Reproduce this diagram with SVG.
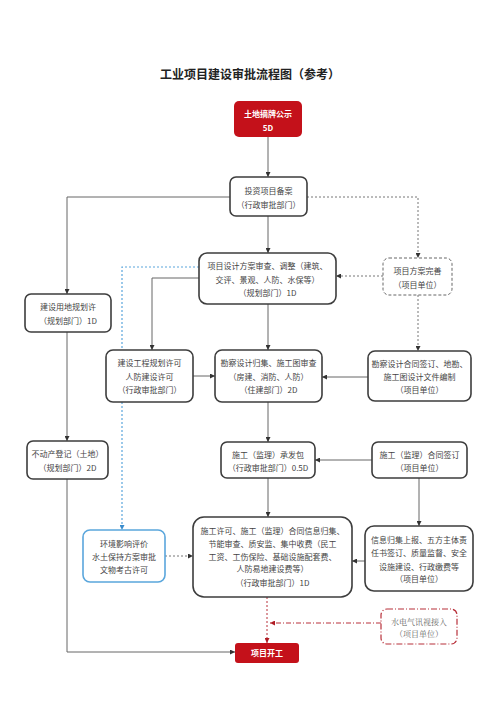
<svg xmlns="http://www.w3.org/2000/svg" width="500" height="707" viewBox="0 0 500 707">
<defs>
<style>
.t{font-family:"Noto Sans CJK SC","Liberation Sans",sans-serif;font-size:8px;fill:#444;text-anchor:middle}
.w{font-family:"Noto Sans CJK SC","Liberation Sans",sans-serif;font-size:8px;fill:#fff;font-weight:bold;text-anchor:middle}
.s{font-family:"Noto Serif CJK SC","Liberation Serif","Noto Sans CJK SC",serif;font-size:8px;fill:#666;text-anchor:middle}
.box{fill:#fff;stroke:#3d3d3d;stroke-width:1.6}
.red{fill:#c4111a;stroke:none}
.dbox{fill:#fff;stroke:#666;stroke-width:1;stroke-dasharray:3 2}
.bbox{fill:#fff;stroke:#5aa6dc;stroke-width:1.6}
.rbox{fill:#fff;stroke:#b8303a;stroke-width:1.2;stroke-dasharray:6 2 1 2}
.ln{fill:none;stroke:#666;stroke-width:1;marker-end:url(#ah)}
.lnn{fill:none;stroke:#666;stroke-width:1}
.dl{fill:none;stroke:#777;stroke-width:1;stroke-dasharray:2 2;marker-end:url(#ah)}
.bl{fill:none;stroke:#5aa6dc;stroke-width:1.2;stroke-dasharray:2 2;marker-end:url(#ahb)}
.rl{fill:none;stroke:#b8303a;stroke-width:1;stroke-dasharray:2 2;marker-end:url(#ahr)}
.rdl{fill:none;stroke:#b8303a;stroke-width:1;stroke-dasharray:5 2 1 2;marker-end:url(#ahr)}
</style>
<marker id="ah" viewBox="0 0 10 10" refX="10" refY="5" markerWidth="5" markerHeight="5" orient="auto" markerUnits="userSpaceOnUse"><path d="M0,0L10,5L0,10z" fill="#333"/></marker>
<marker id="ahb" viewBox="0 0 10 10" refX="10" refY="5" markerWidth="5" markerHeight="5" orient="auto" markerUnits="userSpaceOnUse"><path d="M0,0L10,5L0,10z" fill="#3a8ccc"/></marker>
<marker id="ahr" viewBox="0 0 10 10" refX="10" refY="5" markerWidth="5" markerHeight="5" orient="auto" markerUnits="userSpaceOnUse"><path d="M0,0L10,5L0,10z" fill="#b01c24"/></marker>
</defs>
<rect width="500" height="707" fill="#fff"/>
<text x="250" y="79" style="font-family:'Noto Sans CJK SC','Liberation Sans',sans-serif;font-size:12px;font-weight:bold;fill:#222;text-anchor:middle">工业项目建设审批流程图（参考）</text>

<g id="connectors">
<path class="ln" d="M268,137V177"/>
<path class="ln" d="M230,197H67V294"/>
<path class="dl" d="M307,197H418V258"/>
<path class="ln" d="M268,216V253"/>
<path class="dl" d="M383,276H336"/>
<path class="dl" d="M418,295V351"/>
<path class="ln" d="M199,278H152V350"/>
<path class="bl" d="M199,267H122V530"/>
<path class="ln" d="M193,376H215"/>
<path class="ln" d="M268,304V350"/>
<path class="ln" d="M368,377H322"/>
<path class="ln" d="M67,332V441"/>
<path class="ln" d="M268,402V442"/>
<path class="ln" d="M372,460H315"/>
<path class="ln" d="M419,478V526"/>
<path class="ln" d="M268,478V517"/>
<path class="dl" d="M165,556H193"/>
<path class="ln" d="M365,561H352"/>
<path class="ln" d="M67,479V652H235"/>
<path class="rl" d="M267,597V643"/>
<path class="rdl" d="M381,623H270"/>
</g>

<g id="n1"><rect class="red" x="234" y="101" width="68" height="36" rx="5"/><text class="w" x="268" y="117">土地摘牌公示</text><text class="w" x="268" y="131">5D</text></g>
<g id="n2"><rect class="box" x="230" y="177" width="77" height="39" rx="6"/><text class="t" x="268.5" y="194">投资项目备案</text><text class="t" x="268.5" y="208">（行政审批部门）</text></g>
<g id="n3"><rect class="box" x="25" y="294" width="86" height="38" rx="6"/><text class="t" x="68" y="310">建设用地规划许</text><text class="t" x="68" y="324">（规划部门）1D</text></g>
<g id="n4"><rect class="box" x="199" y="253" width="137" height="51" rx="8"/><text class="t" x="267.5" y="269">项目设计方案审查、调整（建筑、</text><text class="t" x="267.5" y="283">交评、景观、人防、水保等）</text><text class="t" x="267.5" y="296">（规划部门）1D</text></g>
<g id="n5"><rect class="dbox" x="383" y="258" width="69" height="37" rx="6"/><text class="t" x="417.5" y="274">项目方案完善</text><text class="t" x="417.5" y="288">（项目单位）</text></g>
<g id="n6"><rect class="box" x="106" y="350" width="87" height="52" rx="7"/><text class="t" x="149.5" y="366">建设工程规划许可</text><text class="t" x="149.5" y="380">人防建设许可</text><text class="t" x="149.5" y="393">（行政审批部门）</text></g>
<g id="n7"><rect class="box" x="215" y="350" width="107" height="52" rx="7"/><text class="t" x="268.5" y="366">勘察设计归集、施工图审查</text><text class="t" x="268.5" y="380">（房建、消防、人防）</text><text class="t" x="268.5" y="393">（住建部门）2D</text></g>
<g id="n8"><rect class="box" x="368" y="351" width="103" height="50" rx="7"/><text class="t" x="419.5" y="367">勘察设计合同签订、地勘、</text><text class="t" x="419.5" y="380">施工图设计文件编制</text><text class="t" x="419.5" y="393">（项目单位）</text></g>
<g id="n9"><rect class="box" x="27" y="441" width="81" height="38" rx="6"/><text class="t" x="67.5" y="457">不动产登记（土地）</text><text class="t" x="67.5" y="471">（规划部门）2D</text></g>
<g id="n10"><rect class="box" x="221" y="442" width="94" height="36" rx="6"/><text class="t" x="268" y="458">施工（监理）承发包</text><text class="t" x="268" y="471">（行政审批部门）0.5D</text></g>
<g id="n11"><rect class="box" x="372" y="442" width="95" height="36" rx="6"/><text class="t" x="419.5" y="458">施工（监理）合同签订</text><text class="t" x="419.5" y="471">（项目单位）</text></g>
<g id="n12"><rect class="bbox" x="83" y="530" width="82" height="52" rx="7"/><text class="t" x="124" y="547">环境影响评价</text><text class="t" x="124" y="560">水土保持方案审批</text><text class="t" x="124" y="573">文物考古许可</text></g>
<g id="n13"><rect class="box" x="193" y="517" width="159" height="80" rx="11"/><text class="t" x="272.5" y="534">施工许可、施工（监理）合同信息归集、</text><text class="t" x="272.5" y="547">节能审查、质安监、集中收费（民工</text><text class="t" x="272.5" y="560">工资、工伤保险、基础设施配套费、</text><text class="t" x="272.5" y="572">人防易地建设费等）</text><text class="t" x="272.5" y="586">（行政审批部门）1D</text></g>
<g id="n14"><rect class="box" x="365" y="526" width="108" height="65" rx="9"/><text class="t" x="419" y="543">信息归集上报、五方主体责</text><text class="t" x="419" y="556">任书签订、质量监督、安全</text><text class="t" x="419" y="570">设施建设、行政缴费等</text><text class="t" x="419" y="582">（项目单位）</text></g>
<g id="n15"><rect class="rbox" x="381" y="609" width="76" height="35" rx="6"/><text class="s" x="419" y="625">水电气讯视接入</text><text class="s" x="419" y="637">（项目单位）</text></g>
<g id="n16"><rect class="red" x="235" y="643" width="64" height="20" rx="3"/><text class="w" x="267" y="656">项目开工</text></g>
</svg>
